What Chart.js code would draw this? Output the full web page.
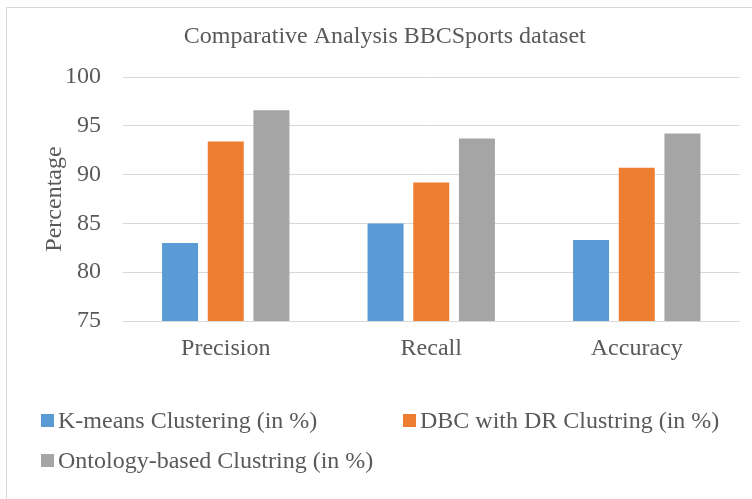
<!DOCTYPE html>
<html>
<head>
<meta charset="utf-8">
<script src="https://cdn.jsdelivr.net/npm/chart.js@4"></script>
<style>
  html, body { margin: 0; padding: 0; background: #ffffff; }
  #wrap { width: 752px; height: 499px; position: relative; }
</style>
</head>
<body>
<div id="wrap"><canvas id="chart" width="752" height="499"></canvas></div>
<script>
// Categories and series
const categories = ['Precision', 'Recall', 'Accuracy'];
const kmeansValues = [83.0, 85.0, 83.3];
const dbcValues = [93.4, 89.2, 90.7];
const ontologyValues = [96.6, 93.7, 94.2];
const seriesNames = [
  'K-means Clustering (in %)',
  'DBC with DR Clustring (in %)',
  'Ontology-based Clustring (in %)'
];
const yTicks = [75, 80, 85, 90, 95, 100];

const FONT = "'Liberation Serif', 'Times New Roman', serif";
const TEXT = '#595959';
const GRID = '#d9d9d9';
const colors = ['#5b9bd5', '#ed7d31', '#a5a5a5'];

// Outer frame of the chart
const framePlugin = {
  id: 'frame',
  beforeDraw(chart) {
    const ctx = chart.ctx;
    ctx.save();
    ctx.fillStyle = '#ffffff';
    ctx.fillRect(0, 0, chart.width, chart.height);
    ctx.strokeStyle = GRID;
    ctx.lineWidth = 1;
    ctx.strokeRect(6.5, 7.5, chart.width + 20, chart.height + 20);
    ctx.restore();
  }
};

// Legend laid out in a two-column grid under the plot
const gridLegendPlugin = {
  id: 'gridLegend',
  afterDraw(chart) {
    const ctx = chart.ctx;
    const slots = [[41, 414], [403, 414], [41, 454]];
    ctx.save();
    ctx.font = '24px ' + FONT;
    ctx.textBaseline = 'alphabetic';
    ctx.textAlign = 'left';
    chart.data.datasets.forEach((ds, i) => {
      const [x, y] = slots[i];
      ctx.fillStyle = ds.backgroundColor;
      ctx.fillRect(x, y, 13, 13);
      ctx.fillStyle = TEXT;
      ctx.fillText(ds.label, x + 17, y + 14);
    });
    ctx.restore();
  }
};

new Chart(document.getElementById('chart'), {
  type: 'bar',
  data: {
    labels: categories,
    datasets: [
      { label: seriesNames[0], data: kmeansValues, backgroundColor: colors[0] },
      { label: seriesNames[1], data: dbcValues, backgroundColor: colors[1] },
      { label: seriesNames[2], data: ontologyValues, backgroundColor: colors[2] }
    ]
  },
  options: {
    responsive: false,
    animation: false,
    devicePixelRatio: 1,
    layout: { padding: { left: 30, right: 12.5, top: 0, bottom: 0 } },
    datasets: {
      bar: { categoryPercentage: 0.667, barPercentage: 0.788, borderWidth: 0 }
    },
    plugins: {
      legend: { display: false },
      tooltip: { enabled: false },
      title: {
        display: true,
        text: 'Comparative Analysis BBCSports dataset',
        color: TEXT,
        font: { family: FONT, size: 24, weight: 'normal' },
        padding: { top: 22.6, bottom: 25.6 }
      }
    },
    scales: {
      x: {
        grid: { display: false, drawTicks: false },
        border: { display: true, color: GRID, width: 1 },
        ticks: {
          color: TEXT,
          font: { family: FONT, size: 24 },
          padding: 13,
          maxRotation: 0
        },
        afterFit(scale) { scale.height = 178; }
      },
      y: {
        min: 75,
        max: 100,
        afterBuildTicks(scale) { scale.ticks = yTicks.map(v => ({ value: v })); },
        grid: { color: GRID, lineWidth: 1, drawTicks: false },
        border: { display: false },
        ticks: {
          color: TEXT,
          font: { family: FONT, size: 24 },
          padding: 22
        },
        title: {
          display: true,
          text: 'Percentage',
          color: TEXT,
          font: { family: FONT, size: 24 },
          padding: { top: 10.6, bottom: 0 }
        },
        afterFit(scale) { scale.width = 93; }
      }
    }
  },
  plugins: [framePlugin, gridLegendPlugin]
});
</script>
</body>
</html>
